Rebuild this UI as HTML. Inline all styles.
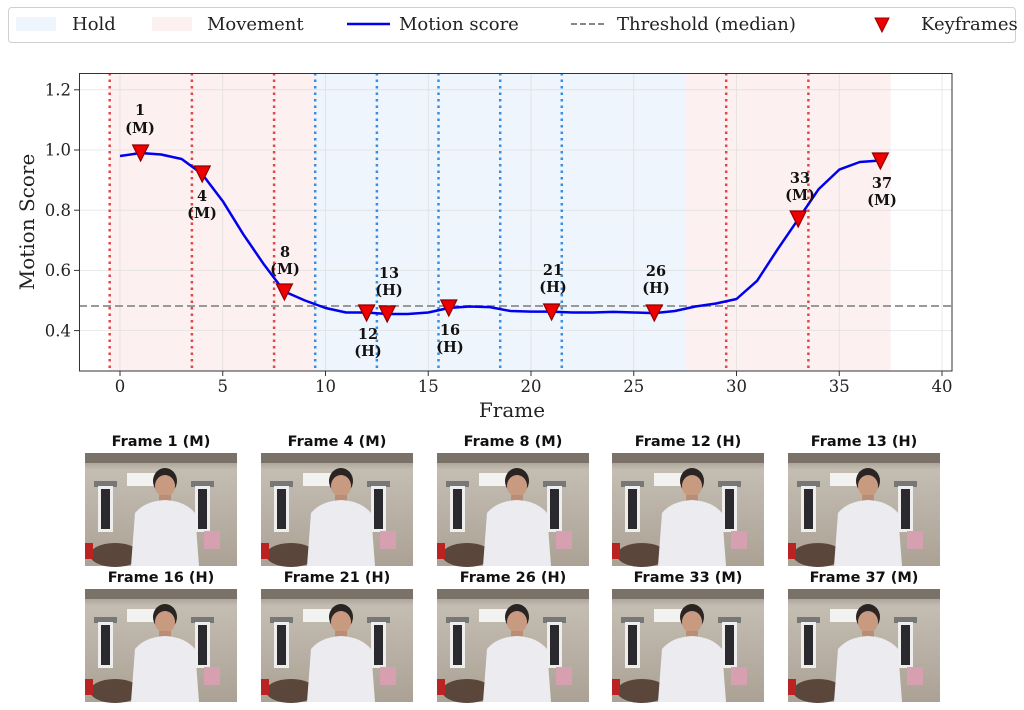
<!DOCTYPE html>
<html><head><meta charset="utf-8"><style>
html,body{margin:0;padding:0;background:#fff;}
svg{display:block;font-family:"DejaVu Serif","Liberation Serif",serif;}
.t{font-size:16.5px;fill:#222;}
.a{font-size:14.5px;font-weight:bold;fill:#111;text-anchor:middle;}
.f{font-family:"DejaVu Sans","Liberation Sans",sans-serif;font-size:14.5px;font-weight:bold;text-anchor:middle;fill:#111;}
</style></head><body>
<svg width="1024" height="710" viewBox="0 0 1024 710" xmlns="http://www.w3.org/2000/svg">
<defs>
<linearGradient id="wall" x1="0" y1="0" x2="0" y2="1">
<stop offset="0" stop-color="#8c857c"/><stop offset="0.15" stop-color="#c4bdb2"/><stop offset="1" stop-color="#aba295"/></linearGradient>
<g id="th">
<rect x="0" y="0" width="152" height="113" fill="url(#wall)"/>
<rect x="0" y="0" width="152" height="10" fill="#7a7268"/>
<rect x="42" y="20" width="33" height="13" fill="#f2f2f0"/>
<rect x="9" y="28" width="23" height="6" fill="#777"/>
<rect x="13" y="33" width="15" height="46" fill="#eee"/>
<rect x="16" y="36" width="9" height="40" fill="#2a2a2e"/>
<rect x="106" y="28" width="23" height="6" fill="#777"/>
<rect x="110" y="33" width="15" height="46" fill="#eee"/>
<rect x="113" y="36" width="9" height="40" fill="#2a2a2e"/>
<rect x="119" y="78" width="16" height="18" fill="#d7a0b0"/>
<ellipse cx="30" cy="102" rx="25" ry="12" fill="#5a463a"/>
<rect x="0" y="90" width="8" height="16" fill="#b22"/>
<ellipse cx="80" cy="28" rx="12" ry="13" fill="#2a2422"/>
<ellipse cx="80" cy="33" rx="10" ry="11" fill="#c89a80"/>
<rect x="74" y="42" width="12" height="8" fill="#b98d76"/>
<path d="M46 113 L50 60 Q60 48 80 47 Q100 48 110 60 L114 113 Z" fill="#ececf0"/>
</g>
</defs>
<rect width="1024" height="710" fill="#fff"/>
<rect x="8.5" y="7.5" width="1007" height="35" rx="3" fill="#fff" stroke="#d0d0d0"/>
<rect x="16" y="17" width="40" height="14" fill="#eef5fc"/>
<text x="72" y="30" style="font-size:18px" fill="#222">Hold</text>
<rect x="152" y="17" width="40" height="14" fill="#fdf0f1"/>
<text x="207" y="30" style="font-size:18px" fill="#222">Movement</text>
<line x1="347" y1="24" x2="390" y2="24" stroke="#0000ee" stroke-width="2.5"/>
<text x="399" y="30" style="font-size:18px" fill="#222">Motion score</text>
<line x1="571" y1="24" x2="607" y2="24" stroke="#888" stroke-width="2" stroke-dasharray="6,3"/>
<text x="617" y="30" style="font-size:18px" fill="#222">Threshold (median)</text>
<path d="M875 18 L889 18 L882 32 Z" fill="#e00" stroke="#900"/>
<text x="921" y="30" style="font-size:18px" fill="#222">Keyframes</text>
<rect x="109.7" y="73" width="205.5" height="298" fill="#fdf0f1"/>
<rect x="315.2" y="73" width="369.9" height="298" fill="#eef5fc"/>
<rect x="685.1" y="73" width="205.5" height="298" fill="#fdf0f1"/>
<g stroke="#d8d8d8" stroke-width="0.8" opacity="0.7">
<line x1="120" y1="73" x2="120" y2="371"/><line x1="222.75" y1="73" x2="222.75" y2="371"/><line x1="325.5" y1="73" x2="325.5" y2="371"/><line x1="428.25" y1="73" x2="428.25" y2="371"/><line x1="531" y1="73" x2="531" y2="371"/><line x1="633.75" y1="73" x2="633.75" y2="371"/><line x1="736.5" y1="73" x2="736.5" y2="371"/><line x1="839.25" y1="73" x2="839.25" y2="371"/><line x1="942" y1="73" x2="942" y2="371"/>
<line x1="79" y1="89.8" x2="952" y2="89.8"/><line x1="79" y1="150" x2="952" y2="150"/><line x1="79" y1="210.2" x2="952" y2="210.2"/><line x1="79" y1="270.4" x2="952" y2="270.4"/><line x1="79" y1="330.6" x2="952" y2="330.6"/>
</g>
<g stroke-width="2.5" stroke-dasharray="2.5,4">
<g stroke="#e04848"><line x1="109.7" y1="73" x2="109.7" y2="371"/><line x1="191.9" y1="73" x2="191.9" y2="371"/><line x1="274.1" y1="73" x2="274.1" y2="371"/><line x1="726.2" y1="73" x2="726.2" y2="371"/><line x1="808.4" y1="73" x2="808.4" y2="371"/></g>
<g stroke="#3a8ee0"><line x1="315.2" y1="73" x2="315.2" y2="371"/><line x1="376.9" y1="73" x2="376.9" y2="371"/><line x1="438.5" y1="73" x2="438.5" y2="371"/><line x1="500.2" y1="73" x2="500.2" y2="371"/><line x1="561.8" y1="73" x2="561.8" y2="371"/></g>
</g>
<line x1="79" y1="306" x2="952" y2="306" stroke="#999" stroke-width="2" stroke-dasharray="8,4"/>
<polyline fill="none" stroke="#0000ee" stroke-width="2.5" stroke-linejoin="round" points="120,156 140.6,153 161.1,154.5 181.7,159 202.2,174.1 222.8,201.2 243.3,234.3 263.9,264.4 284.4,291.5 305,300.5 325.5,308 346.1,312.5 366.6,312.5 387.2,314 407.7,314 428.3,312.5 448.8,308 469.4,306.5 489.9,307.1 510.5,311 531,311.6 551.6,311.6 572.1,312.5 592.7,312.5 613.2,311.9 633.8,312.5 654.3,313.1 674.9,311 695.4,306.5 716,303.5 736.5,299 757.1,280.8 777.6,249.3 798.2,219.2 818.7,189.1 839.3,169.6 859.8,162 880.4,160.5"/>
<g fill="#ee0000" stroke="#8b0000" stroke-width="1.2">
<path d="M132.6 145 L148.6 145 L140.6 161 Z"/>
<path d="M194.2 166 L210.2 166 L202.2 182 Z"/>
<path d="M276.4 284 L292.4 284 L284.4 300 Z"/>
<path d="M358.6 305 L374.6 305 L366.6 321 Z"/>
<path d="M379.2 306 L395.2 306 L387.2 322 Z"/>
<path d="M440.8 300 L456.8 300 L448.8 316 Z"/>
<path d="M543.6 304 L559.6 304 L551.6 320 Z"/>
<path d="M646.3 305 L662.3 305 L654.3 321 Z"/>
<path d="M790.2 211 L806.2 211 L798.2 227 Z"/>
<path d="M872.4 153 L888.4 153 L880.4 169 Z"/>
</g>
<g>
<text x="140" y="115" class="a">1</text><text x="140" y="133" class="a">(M)</text>
<text x="202" y="201" class="a">4</text><text x="202" y="218" class="a">(M)</text>
<text x="285" y="257" class="a">8</text><text x="285" y="274" class="a">(M)</text>
<text x="368" y="339" class="a">12</text><text x="368" y="356" class="a">(H)</text>
<text x="389" y="278" class="a">13</text><text x="389" y="295" class="a">(H)</text>
<text x="450" y="335" class="a">16</text><text x="450" y="352" class="a">(H)</text>
<text x="553" y="275" class="a">21</text><text x="553" y="292" class="a">(H)</text>
<text x="656" y="276" class="a">26</text><text x="656" y="293" class="a">(H)</text>
<text x="800" y="183" class="a">33</text><text x="800" y="200" class="a">(M)</text>
<text x="882" y="188" class="a">37</text><text x="882" y="205" class="a">(M)</text>
</g>
<rect x="79.5" y="73.5" width="872.5" height="297.5" fill="none" stroke="#333" stroke-width="1"/>
<g stroke="#333"><line x1="120" y1="371" x2="120" y2="376"/><line x1="222.75" y1="371" x2="222.75" y2="376"/><line x1="325.5" y1="371" x2="325.5" y2="376"/><line x1="428.25" y1="371" x2="428.25" y2="376"/><line x1="531" y1="371" x2="531" y2="376"/><line x1="633.75" y1="371" x2="633.75" y2="376"/><line x1="736.5" y1="371" x2="736.5" y2="376"/><line x1="839.25" y1="371" x2="839.25" y2="376"/><line x1="942" y1="371" x2="942" y2="376"/>
<line x1="74" y1="89.8" x2="79" y2="89.8"/><line x1="74" y1="150" x2="79" y2="150"/><line x1="74" y1="210.2" x2="79" y2="210.2"/><line x1="74" y1="270.4" x2="79" y2="270.4"/><line x1="74" y1="330.6" x2="79" y2="330.6"/></g>
<g class="t" text-anchor="middle"><text x="120" y="392">0</text><text x="222.75" y="392">5</text><text x="325.5" y="392">10</text><text x="428.25" y="392">15</text><text x="531" y="392">20</text><text x="633.75" y="392">25</text><text x="736.5" y="392">30</text><text x="839.25" y="392">35</text><text x="942" y="392">40</text></g>
<g class="t" text-anchor="end"><text x="71" y="95.5">1.2</text><text x="71" y="155.7">1.0</text><text x="71" y="215.9">0.8</text><text x="71" y="276.1">0.6</text><text x="71" y="336.3">0.4</text></g>
<text x="512" y="417" text-anchor="middle" style="font-size:20px" fill="#222">Frame</text>
<text transform="translate(34,222) rotate(-90)" text-anchor="middle" style="font-size:20px" fill="#222">Motion Score</text>
<text x="161" y="446" class="f">Frame 1 (M)</text>
<text x="337" y="446" class="f">Frame 4 (M)</text>
<text x="513" y="446" class="f">Frame 8 (M)</text>
<text x="688" y="446" class="f">Frame 12 (H)</text>
<text x="864" y="446" class="f">Frame 13 (H)</text>
<use href="#th" x="85" y="453"/><use href="#th" x="261" y="453"/><use href="#th" x="437" y="453"/><use href="#th" x="612" y="453"/><use href="#th" x="788" y="453"/>
<text x="161" y="582" class="f">Frame 16 (H)</text>
<text x="337" y="582" class="f">Frame 21 (H)</text>
<text x="513" y="582" class="f">Frame 26 (H)</text>
<text x="688" y="582" class="f">Frame 33 (M)</text>
<text x="864" y="582" class="f">Frame 37 (M)</text>
<use href="#th" x="85" y="589"/><use href="#th" x="261" y="589"/><use href="#th" x="437" y="589"/><use href="#th" x="612" y="589"/><use href="#th" x="788" y="589"/>
</svg>
</body></html>
